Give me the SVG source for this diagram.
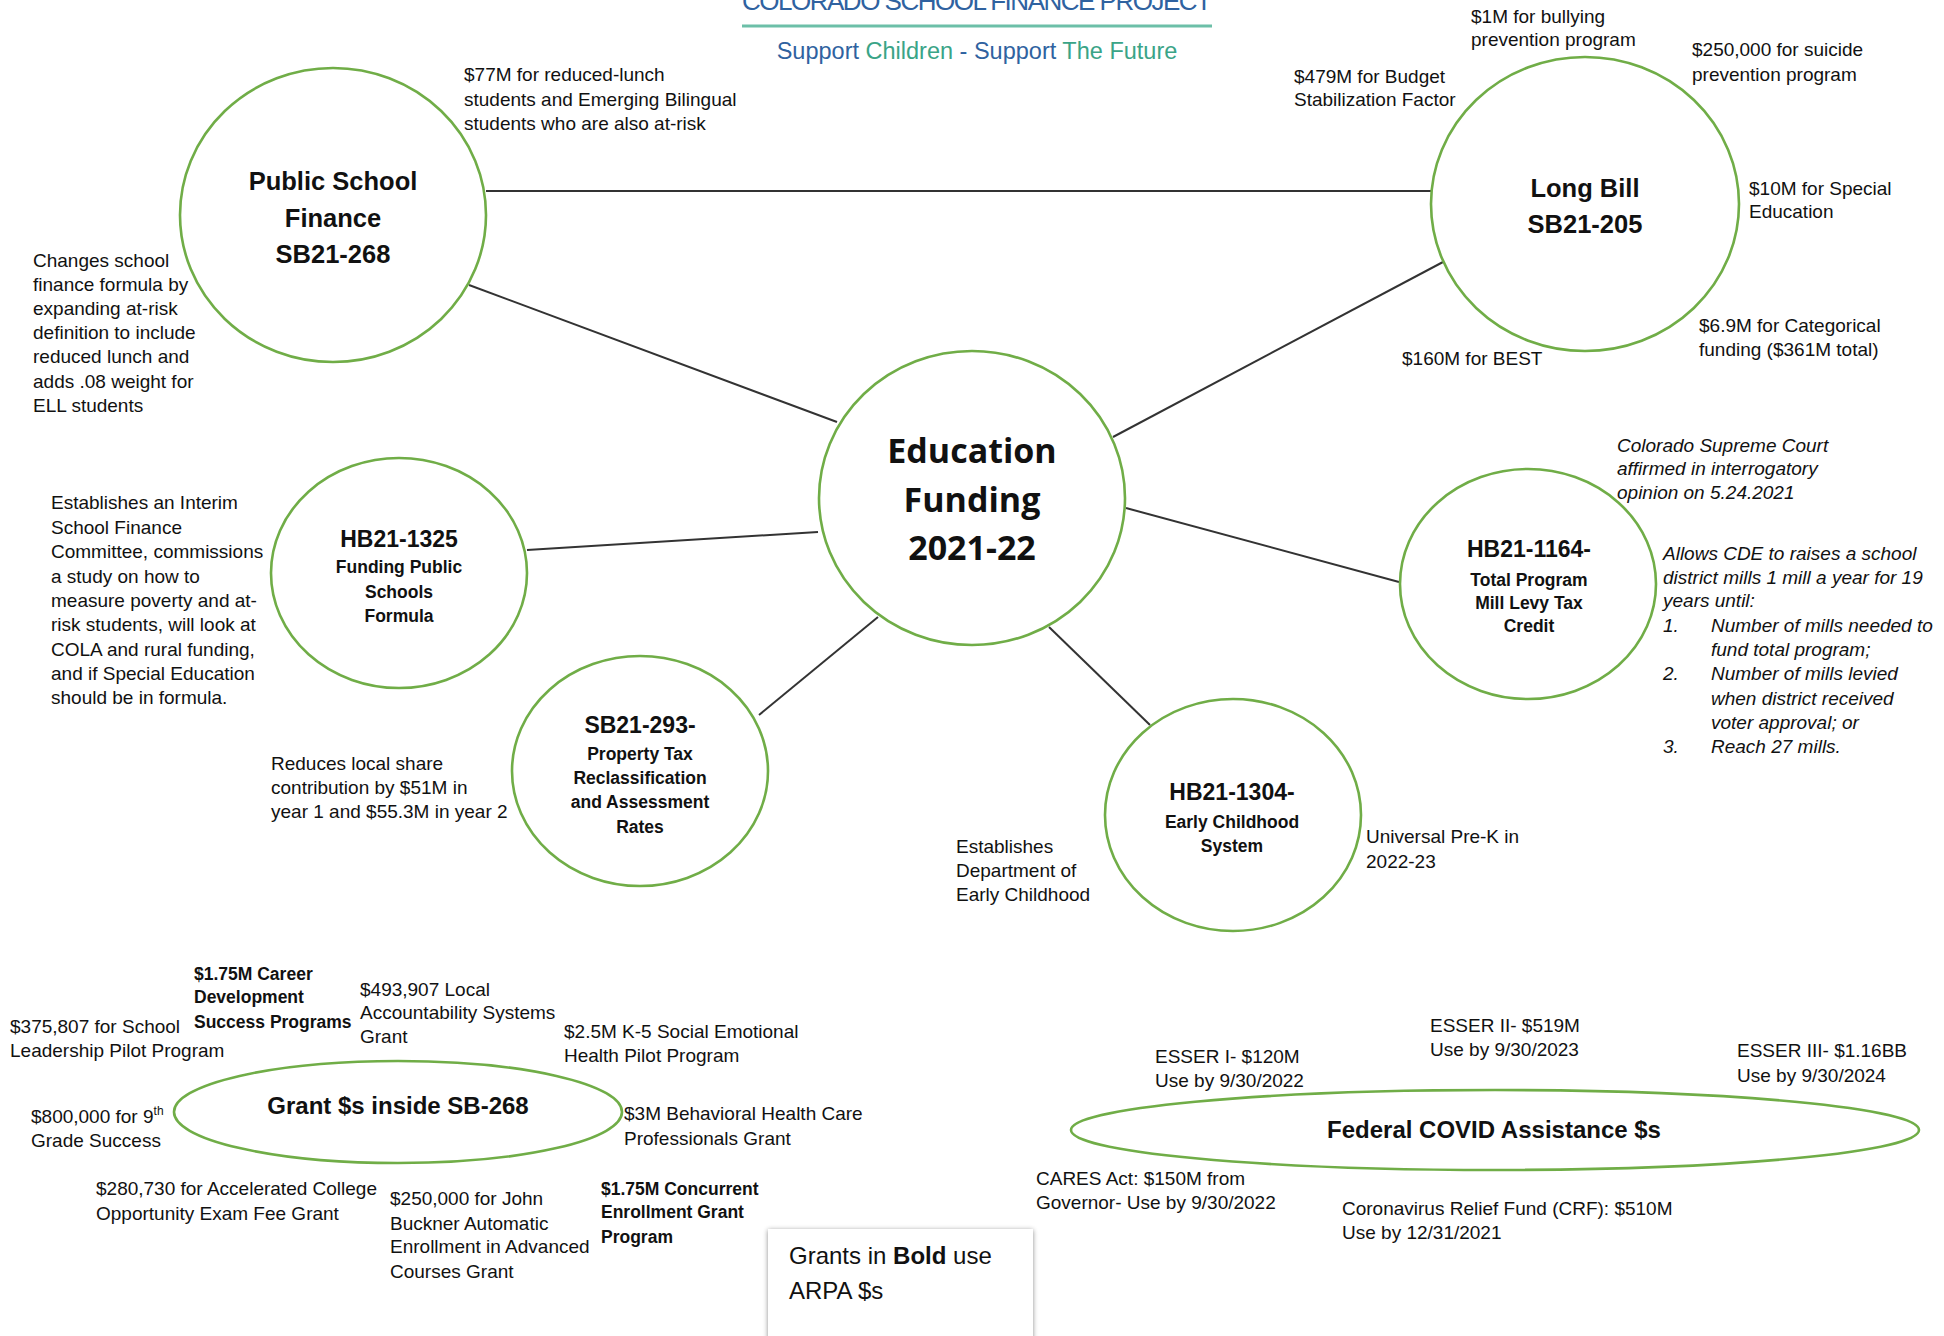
<svg xmlns="http://www.w3.org/2000/svg" width="1944" height="1336" viewBox="0 0 1944 1336">
<defs>
<style>
text{font-family:"Liberation Sans",Arial,sans-serif;fill:#111;}
.n{fill:#fff;stroke:#70ad47;stroke-width:2.6;}
.c{stroke:#333;stroke-width:2;fill:none;}
.b{font-size:19px;}
.i{font-size:19px;font-style:italic;}
.bb{font-size:17.5px;font-weight:bold;}
.h1{font-size:25.5px;font-weight:bold;text-anchor:middle;}
.h2{font-size:23px;font-weight:bold;text-anchor:middle;}
.h3{font-size:17.5px;font-weight:bold;text-anchor:middle;}
.hc{font-family:"Open Sans","Liberation Sans",sans-serif;font-size:34px;font-weight:bold;text-anchor:middle;}
.he{font-size:24px;font-weight:bold;text-anchor:middle;}
.blue{fill:#2f62a0;}
.teal{fill:#3aa487;}
</style>
<filter id="sh" x="-10%" y="-10%" width="120%" height="120%">
<feDropShadow dx="0" dy="1" stdDeviation="2.5" flood-color="#000" flood-opacity="0.45"/>
</filter>
</defs>
<rect width="1944" height="1336" fill="#fff"/>

<g id="header">
<text x="742" y="10" font-size="26" textLength="470" lengthAdjust="spacing" class="blue" style="font-family:'Liberation Sans',sans-serif;">COLORADO SCHOOL FINANCE PROJECT</text>
<line x1="742" y1="26" x2="1212" y2="26" stroke="#6cbfa8" stroke-width="3"/>
<text x="977" y="59" font-size="23.5" text-anchor="middle"><tspan class="blue">Support </tspan><tspan class="teal">Children</tspan><tspan class="blue"> - Support </tspan><tspan class="teal">The Future</tspan></text>
</g>

<g id="connectors">
<line class="c" x1="486" y1="191" x2="1431" y2="191"/>
<line class="c" x1="469" y1="285" x2="837" y2="422"/>
<line class="c" x1="1443" y1="262" x2="1113" y2="437"/>
<line class="c" x1="527" y1="550" x2="818" y2="532"/>
<line class="c" x1="759" y1="715" x2="878" y2="617"/>
<line class="c" x1="1126" y1="508" x2="1399" y2="582"/>
<line class="c" x1="1049" y1="627" x2="1150" y2="725"/>
</g>

<g id="node-public-school-finance">
<ellipse class="n" cx="333" cy="215" rx="153" ry="147"/>
<text class="h1" x="333" y="190">Public School</text>
<text class="h1" x="333" y="227">Finance</text>
<text class="h1" x="333" y="263">SB21-268</text>
</g>
<g id="notes-public-school-finance">
<text class="b" x="464" y="81">$77M for reduced-lunch</text>
<text class="b" x="464" y="106">students and Emerging Bilingual</text>
<text class="b" x="464" y="130">students who are also at-risk</text>
<text class="b" x="33" y="267">Changes school</text>
<text class="b" x="33" y="291">finance formula by</text>
<text class="b" x="33" y="315">expanding at-risk</text>
<text class="b" x="33" y="339">definition to include</text>
<text class="b" x="33" y="363">reduced lunch and</text>
<text class="b" x="33" y="388">adds .08 weight for</text>
<text class="b" x="33" y="412">ELL students</text>
</g>

<g id="node-long-bill">
<ellipse class="n" cx="1585" cy="204" rx="154" ry="147"/>
<text class="h1" x="1585" y="197">Long Bill</text>
<text class="h1" x="1585" y="233">SB21-205</text>
</g>
<g id="notes-long-bill">
<text class="b" x="1471" y="23">$1M for bullying</text>
<text class="b" x="1471" y="46">prevention program</text>
<text class="b" x="1692" y="56">$250,000 for suicide</text>
<text class="b" x="1692" y="81">prevention program</text>
<text class="b" x="1294" y="83">$479M for Budget</text>
<text class="b" x="1294" y="106">Stabilization Factor</text>
<text class="b" x="1749" y="195">$10M for Special</text>
<text class="b" x="1749" y="218">Education</text>
<text class="b" x="1699" y="332">$6.9M for Categorical</text>
<text class="b" x="1699" y="356">funding ($361M total)</text>
<text class="b" x="1402" y="365">$160M for BEST</text>
</g>

<g id="node-education-funding">
<ellipse class="n" cx="972" cy="498" rx="153" ry="147"/>
<text class="hc" x="972" y="463">Education</text>
<text class="hc" x="972" y="512">Funding</text>
<text class="hc" x="972" y="560">2021-22</text>
</g>

<g id="node-hb21-1325">
<ellipse class="n" cx="399" cy="573" rx="128" ry="115"/>
<text class="h2" x="399" y="547">HB21-1325</text>
<text class="h3" x="399" y="573">Funding Public</text>
<text class="h3" x="399" y="598">Schools</text>
<text class="h3" x="399" y="622">Formula</text>
</g>
<g id="notes-hb21-1325">
<text class="b" x="51" y="509">Establishes an Interim</text>
<text class="b" x="51" y="534">School Finance</text>
<text class="b" x="51" y="558">Committee, commissions</text>
<text class="b" x="51" y="583">a study on how to</text>
<text class="b" x="51" y="607">measure poverty and at-</text>
<text class="b" x="51" y="631">risk students, will look at</text>
<text class="b" x="51" y="656">COLA and rural funding,</text>
<text class="b" x="51" y="680">and if Special Education</text>
<text class="b" x="51" y="704">should be in formula.</text>
</g>

<g id="node-sb21-293">
<ellipse class="n" cx="640" cy="771" rx="128" ry="115"/>
<text class="h2" x="640" y="733">SB21-293-</text>
<text class="h3" x="640" y="760">Property Tax</text>
<text class="h3" x="640" y="784">Reclassification</text>
<text class="h3" x="640" y="808">and Assessment</text>
<text class="h3" x="640" y="833">Rates</text>
</g>
<g id="notes-sb21-293">
<text class="b" x="271" y="770">Reduces local share</text>
<text class="b" x="271" y="794">contribution by $51M in</text>
<text class="b" x="271" y="818">year 1 and $55.3M in year 2</text>
</g>

<g id="node-hb21-1164">
<ellipse class="n" cx="1528" cy="584" rx="128" ry="115"/>
<text class="h2" x="1529" y="557">HB21-1164-</text>
<text class="h3" x="1529" y="586">Total Program</text>
<text class="h3" x="1529" y="609">Mill Levy Tax</text>
<text class="h3" x="1529" y="632">Credit</text>
</g>
<g id="notes-hb21-1164">
<text class="i" x="1617" y="452">Colorado Supreme Court</text>
<text class="i" x="1617" y="475">affirmed in interrogatory</text>
<text class="i" x="1617" y="499">opinion on 5.24.2021</text>
<text class="i" x="1663" y="560">Allows CDE to raises a school</text>
<text class="i" x="1663" y="584">district mills 1 mill a year for 19</text>
<text class="i" x="1663" y="607">years until:</text>
<text class="i" x="1663" y="632">1.</text>
<text class="i" x="1711" y="632">Number of mills needed to</text>
<text class="i" x="1711" y="656">fund total program;</text>
<text class="i" x="1663" y="680">2.</text>
<text class="i" x="1711" y="680">Number of mills levied</text>
<text class="i" x="1711" y="705">when district received</text>
<text class="i" x="1711" y="729">voter approval; or</text>
<text class="i" x="1663" y="753">3.</text>
<text class="i" x="1711" y="753">Reach 27 mills.</text>
</g>

<g id="node-hb21-1304">
<ellipse class="n" cx="1233" cy="815" rx="128" ry="116"/>
<text class="h2" x="1232" y="800">HB21-1304-</text>
<text class="h3" x="1232" y="828">Early Childhood</text>
<text class="h3" x="1232" y="852">System</text>
</g>
<g id="notes-hb21-1304">
<text class="b" x="1366" y="843">Universal Pre-K in</text>
<text class="b" x="1366" y="868">2022-23</text>
<text class="b" x="956" y="853">Establishes</text>
<text class="b" x="956" y="877">Department of</text>
<text class="b" x="956" y="901">Early Childhood</text>
</g>

<g id="node-grants-sb268">
<ellipse class="n" cx="398" cy="1112" rx="224" ry="51"/>
<text class="he" x="398" y="1114">Grant $s inside SB-268</text>
</g>
<g id="notes-grants-sb268">
<text class="bb" x="194" y="980">$1.75M Career</text>
<text class="bb" x="194" y="1003">Development</text>
<text class="bb" x="194" y="1028">Success Programs</text>
<text class="b" x="360" y="996">$493,907 Local</text>
<text class="b" x="360" y="1019">Accountability Systems</text>
<text class="b" x="360" y="1043">Grant</text>
<text class="b" x="10" y="1033">$375,807 for School</text>
<text class="b" x="10" y="1057">Leadership Pilot Program</text>
<text class="b" x="564" y="1038">$2.5M K-5 Social Emotional</text>
<text class="b" x="564" y="1062">Health Pilot Program</text>
<text class="b" x="31" y="1123">$800,000 for 9<tspan font-size="12" dy="-8">th</tspan></text>
<text class="b" x="31" y="1147">Grade Success</text>
<text class="b" x="624" y="1120">$3M Behavioral Health Care</text>
<text class="b" x="624" y="1145">Professionals Grant</text>
<text class="b" x="96" y="1195">$280,730 for Accelerated College</text>
<text class="b" x="96" y="1220">Opportunity Exam Fee Grant</text>
<text class="b" x="390" y="1205">$250,000 for John</text>
<text class="b" x="390" y="1230">Buckner Automatic</text>
<text class="b" x="390" y="1253">Enrollment in Advanced</text>
<text class="b" x="390" y="1278">Courses Grant</text>
<text class="bb" x="601" y="1195">$1.75M Concurrent</text>
<text class="bb" x="601" y="1218">Enrollment Grant</text>
<text class="bb" x="601" y="1243">Program</text>
</g>

<g id="node-federal-covid">
<ellipse class="n" cx="1495" cy="1130" rx="424" ry="40"/>
<text class="he" x="1494" y="1138">Federal COVID Assistance $s</text>
</g>
<g id="notes-federal-covid">
<text class="b" x="1430" y="1032">ESSER II- $519M</text>
<text class="b" x="1430" y="1056">Use by 9/30/2023</text>
<text class="b" x="1155" y="1063">ESSER I- $120M</text>
<text class="b" x="1155" y="1087">Use by 9/30/2022</text>
<text class="b" x="1737" y="1057">ESSER III- $1.16BB</text>
<text class="b" x="1737" y="1082">Use by 9/30/2024</text>
<text class="b" x="1036" y="1185">CARES Act: $150M from</text>
<text class="b" x="1036" y="1209">Governor- Use by 9/30/2022</text>
<text class="b" x="1342" y="1215">Coronavirus Relief Fund (CRF): $510M</text>
<text class="b" x="1342" y="1239">Use by 12/31/2021</text>
</g>

<g id="legend-box">
<rect x="768" y="1229" width="265" height="130" fill="#fff" filter="url(#sh)"/>
<text x="789" y="1264" font-size="24" fill="#333">Grants in <tspan font-weight="bold" fill="#111">Bold</tspan> use</text>
<text x="789" y="1299" font-size="24" fill="#333">ARPA $s</text>
</g>
</svg>
